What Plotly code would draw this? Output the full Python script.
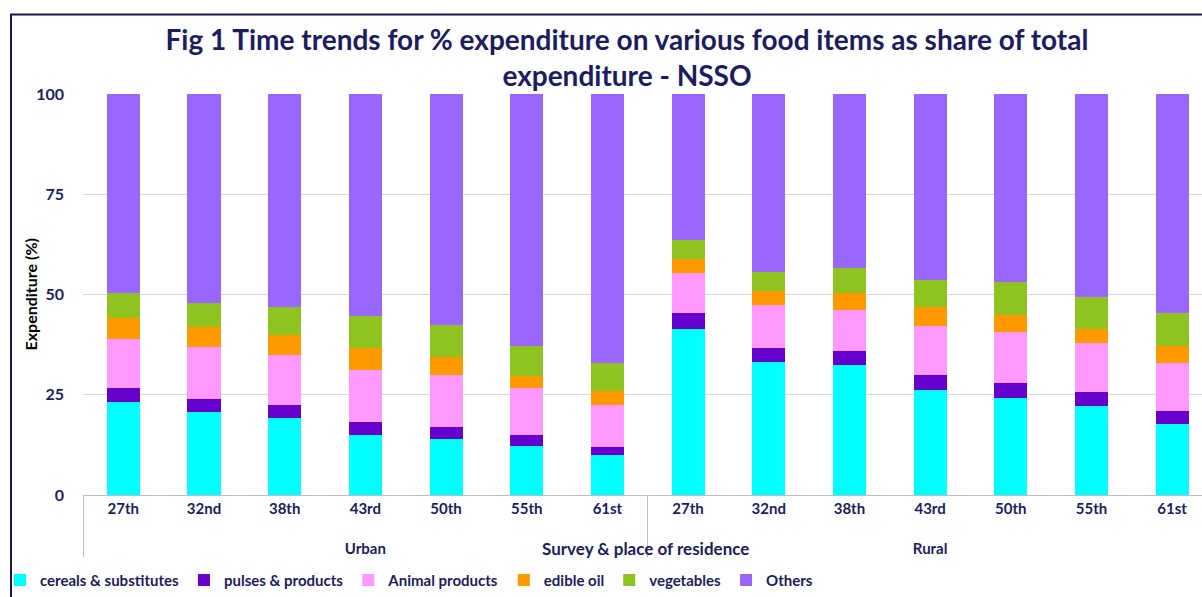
import plotly.graph_objects as go

surveys = ["27th", "32nd", "38th", "43rd", "50th", "55th", "61st"]
places = ["Urban", "Rural"]

cereals = [23.3, 20.6, 19.2, 15.0, 13.9, 12.2, 9.9,
           41.5, 33.2, 32.3, 26.1, 24.1, 22.2, 17.8]
pulses = [3.5, 3.4, 3.3, 3.2, 3.0, 2.8, 2.0,
          3.9, 3.5, 3.6, 3.9, 3.9, 3.5, 3.2]
animal = [12.2, 13.0, 12.5, 12.9, 13.1, 11.7, 10.6,
          9.9, 10.7, 10.3, 12.2, 12.7, 12.3, 11.8]
edible_oil = [5.1, 4.8, 4.8, 5.6, 4.3, 2.9, 3.4,
              3.6, 3.5, 4.2, 4.7, 4.2, 3.5, 4.4]
vegetables = [6.3, 6.2, 7.1, 7.9, 8.2, 7.6, 6.9,
              4.7, 4.8, 6.1, 6.7, 8.1, 7.9, 8.1]
others = [49.6, 52.0, 53.1, 55.4, 57.5, 62.8, 67.2,
          36.4, 44.3, 43.5, 46.4, 47.0, 50.6, 54.7]

series = [
    ("cereals & substitutes", cereals, "#00FFFF"),
    ("pulses & products", pulses, "#6600CC"),
    ("Animal products", animal, "#FF99FF"),
    ("edible oil", edible_oil, "#FF9900"),
    ("vegetables", vegetables, "#8FC31F"),
    ("Others", others, "#9966FF"),
]

# second-level labels carry a leading line break so they sit lower, as in the source
x_level0 = ["<br>" + p for p in places for _ in surveys]
x_level1 = surveys * len(places)

NAVY = "#1c1c5e"
FONT = "Lato"

fig = go.Figure()
for name, vals, col in series:
    fig.add_trace(go.Bar(
        x=[x_level0, x_level1], y=vals, name=name,
        marker=dict(color=col, line=dict(width=0)),
    ))

W, H = 1202, 597
L, R, T, B = 83, 0, 94, 95
pw = W - L - R
ph = H - T - B

def px2x(px):
    return (px - L) / pw

def py2y(py):
    return (H - B - py) / ph

fig.update_layout(
    width=W, height=H,
    margin=dict(l=L, r=R, t=T, b=B),
    barmode="stack", bargap=0.59,
    plot_bgcolor="white", paper_bgcolor="white",
    font=dict(family=FONT, color=NAVY, size=14),
    title=dict(
        text="<b>Fig 1 Time trends for % expenditure on various food items as share of total<br>expenditure - NSSO</b>",
        x=627 / W, xanchor="center", xref="container",
        y=1 - 50 / H, yanchor="top", yref="container",
        font=dict(family=FONT, size=28, color=NAVY),
    ),
    xaxis=dict(
        type="multicategory", range=[-0.5, 13.37],
        showline=True, linecolor="#BFBFBF", linewidth=1,
        showgrid=False, ticks="", showdividers=True,
        dividercolor="#BFBFBF", dividerwidth=1,
        tickfont=dict(family=FONT, size=15, color=NAVY, weight="bold"),
    ),
    yaxis=dict(
        range=[0, 100], tickvals=[0, 25, 50, 75, 100],
        showgrid=True, gridcolor="#D9D9D9", gridwidth=1,
        zeroline=False, showline=False, ticks="",
        ticklabelstandoff=18,
        tickfont=dict(family=FONT, size=16, color=NAVY, weight="bold"),
    ),
    legend=dict(
        orientation="h", x=px2x(0), xanchor="left",
        y=py2y(572), yanchor="top",
        font=dict(family=FONT, size=15, color=NAVY, weight="bold"),
        itemwidth=30, tracegroupgap=0, traceorder="normal",
        bgcolor="rgba(0,0,0,0)",
    ),
    showlegend=True,
)

fig.add_annotation(
    text="<b>Expenditure (%)</b>", xref="paper", yref="paper",
    x=px2x(30), y=py2y(298), xanchor="center", yanchor="middle",
    textangle=-90, showarrow=False,
    font=dict(family=FONT, size=16, color="black"),
)

fig.add_annotation(
    text="<b>Survey & place of residence</b>", xref="paper", yref="paper",
    x=px2x(645), y=py2y(556), xanchor="center", yanchor="middle",
    showarrow=False, font=dict(family=FONT, size=17, color=NAVY),
)

fig.add_shape(
    type="rect", xref="paper", yref="paper",
    x0=px2x(11), x1=px2x(1230), y0=py2y(640), y1=py2y(13),
    line=dict(color="#1a1a50", width=2), fillcolor="rgba(0,0,0,0)",
    layer="above",
)

fig.write_html("out.html")
